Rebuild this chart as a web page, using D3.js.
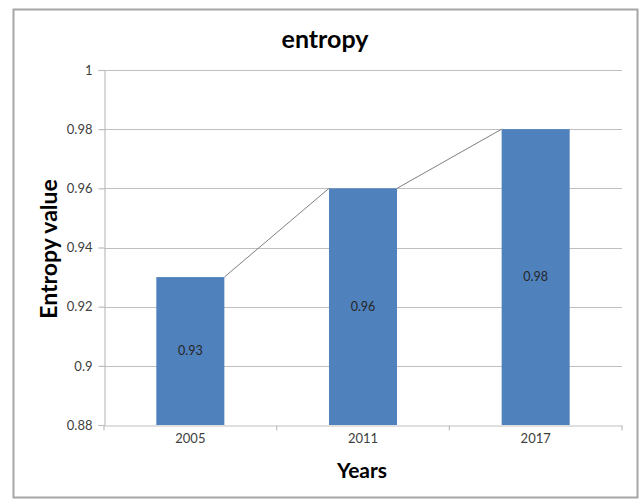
<!DOCTYPE html>
<html>
<head>
<meta charset="utf-8">
<script src="https://cdn.jsdelivr.net/npm/d3@7"></script>
<style>
  body { margin: 0; background: #fff; }
  text { font-family: Lato, "Open Sans", "Liberation Sans", sans-serif; }
</style>
</head>
<body>
<svg id="chart" width="641" height="500"></svg>
<script>
// Entropy per survey year
const years = ["2005", "2011", "2017"];
const entropy = [0.93, 0.96, 0.98];
const yTicks = [0.88, 0.9, 0.92, 0.94, 0.96, 0.98, 1];
const yTickLabels = ["0.88", "0.9", "0.92", "0.94", "0.96", "0.98", "1"];

const svg = d3.select("#chart");

// outer chart frame
svg.append("rect")
  .attr("x", 13.5).attr("y", 9.5)
  .attr("width", 624).attr("height", 488)
  .attr("fill", "#fff").attr("stroke", "#a6a6a6").attr("stroke-width", 2);

const plot = { left: 104, right: 622, top: 70, bottom: 425 };

const x = d3.scaleBand().domain(years).range([plot.left, plot.right]).padding(0);
const y = d3.scaleLinear().domain([0.88, 1]).range([plot.bottom, plot.top]);
const barW = x.bandwidth() * 0.394;

// horizontal gridlines
svg.append("g").selectAll("line")
  .data(yTicks.slice(1))
  .join("line")
  .attr("x1", plot.left).attr("x2", plot.right)
  .attr("y1", d => Math.round(y(d)) + 0.5).attr("y2", d => Math.round(y(d)) + 0.5)
  .attr("stroke", "#bfbfbf").attr("stroke-width", 1.2);

// y axis
const yAxis = svg.append("g")
  .attr("transform", `translate(${plot.left + 0.5},0)`)
  .call(d3.axisLeft(y).tickValues(yTicks)
    .tickFormat((d, i) => yTickLabels[i]).tickSize(6).tickPadding(6));
yAxis.select(".domain").attr("stroke", "#bfbfbf").attr("stroke-width", 1.2);
yAxis.selectAll(".tick line").attr("stroke", "#bfbfbf").attr("stroke-width", 1.2);
yAxis.selectAll(".tick text").attr("fill", "#404040").style("font-size", "13px")
  .style("font-family", "Lato, 'Open Sans', sans-serif");

// bars
svg.append("g").selectAll("rect")
  .data(entropy)
  .join("rect")
  .attr("x", (d, i) => x(years[i]) + (x.bandwidth() - barW) / 2)
  .attr("y", d => y(d))
  .attr("width", barW)
  .attr("height", d => y(0.88) - y(d))
  .attr("fill", "#4f81bd");

// series lines joining bar tops
const links = entropy.slice(0, -1).map((d, i) => [
  [x(years[i]) + (x.bandwidth() + barW) / 2, y(d)],
  [x(years[i + 1]) + (x.bandwidth() - barW) / 2, y(entropy[i + 1])]
]);
svg.append("g").selectAll("line")
  .data(links)
  .join("line")
  .attr("x1", d => d[0][0]).attr("y1", d => d[0][1])
  .attr("x2", d => d[1][0]).attr("y2", d => d[1][1])
  .attr("stroke", "#7f7f7f").attr("stroke-width", 1);

// x axis
const xAxis = svg.append("g")
  .attr("transform", `translate(0,${Math.round(y(0.88)) + 0.5})`)
  .call(d3.axisBottom(x).tickSize(0).tickPadding(8));
xAxis.select(".domain").attr("stroke", "#bfbfbf").attr("stroke-width", 1.2);
xAxis.selectAll(".tick text").attr("fill", "#404040").style("font-size", "13px")
  .style("font-family", "Lato, 'Open Sans', sans-serif");
// category boundary tick marks
xAxis.append("g").selectAll("line")
  .data([plot.left, ...years.map(d => x(d) + x.bandwidth())])
  .join("line")
  .attr("x1", d => d).attr("x2", d => d)
  .attr("y1", 0).attr("y2", 5)
  .attr("stroke", "#bfbfbf").attr("stroke-width", 1.2);

// value labels in the middle of each bar
svg.append("g").selectAll("text")
  .data(entropy)
  .join("text")
  .attr("x", (d, i) => x(years[i]) + x.bandwidth() / 2)
  .attr("y", d => (y(d) + y(0.88)) / 2)
  .attr("dy", "0.35em")
  .attr("text-anchor", "middle")
  .attr("fill", "#262626")
  .style("font-size", "12.5px")
  .text(d => d);

// titles
svg.append("text")
  .attr("x", 325).attr("y", 48)
  .attr("text-anchor", "middle")
  .style("font-size", "25px").style("font-weight", "bold")
  .attr("fill", "#000")
  .text("entropy");

svg.append("text")
  .attr("transform", "translate(57,249) rotate(-90)")
  .attr("text-anchor", "middle")
  .style("font-size", "23px").style("font-weight", "bold")
  .attr("fill", "#000")
  .text("Entropy value");

svg.append("text")
  .attr("x", 362).attr("y", 478)
  .attr("text-anchor", "middle")
  .style("font-size", "21px").style("font-weight", "bold")
  .attr("fill", "#000")
  .text("Years");
</script>
</body>
</html>
